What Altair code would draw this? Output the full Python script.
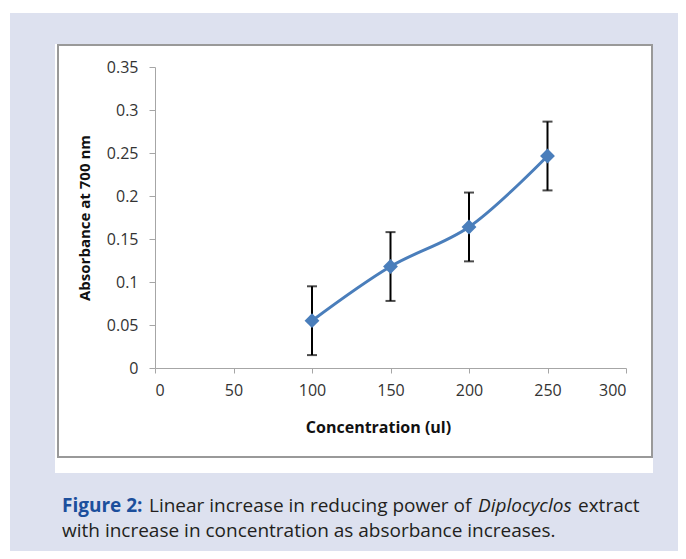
import altair as alt
import pandas as pd

# ---- data ----
concentration = [100, 150, 200, 250]
absorbance = [0.055, 0.118, 0.164, 0.2465]
error = [0.04, 0.04, 0.04, 0.04]

x_ticks = [0, 50, 100, 150, 200, 250, 300]
y_ticks = [0, 0.05, 0.1, 0.15, 0.2, 0.25, 0.3, 0.35]

caption_parts = ["Figure 2:", "Linear increase in reducing power of", "Diplocyclos", "extract"]
caption_line2 = "with increase in concentration as absorbance increases."

df = pd.DataFrame({"conc": concentration, "abs": absorbance, "err": error})
df["lo"] = df["abs"] - df["err"]
df["hi"] = df["abs"] + df["err"]

one = pd.DataFrame({"k": [0]})

W, H = 471, 301
LAV = "#dde1ef"
FONT = "Open Sans"

xscale = alt.Scale(domain=[0, 300], nice=False, zero=False)
yscale = alt.Scale(domain=[0, 0.35], nice=False)

xaxis = alt.Axis(values=x_ticks, grid=False, domainColor="#a6a6a6", tickColor="#a6a6a6",
                 tickSize=5, labelPadding=9, labelFont=FONT, labelFontSize=16,
                 labelColor="#333333", title="Concentration (ul)", titleFont=FONT,
                 titleFontSize=16, titleFontWeight="bold", titleColor="#111111",
                 titleX=223, titleY=64, titleBaseline="alphabetic", zindex=1)
yaxis = alt.Axis(values=y_ticks, format="~g", grid=False, domainColor="#a6a6a6",
                 tickColor="#a6a6a6",
                 tickSize=6, labelPadding=11, labelFont=FONT, labelFontSize=16,
                 labelColor="#333333", title="Absorbance at 700 nm", titleFont=FONT,
                 titleFontSize=15, titleFontWeight="bold", titleColor="#111111",
                 titleX=-71, titleY=H / 2, titleAngle=-90, titleAlign="center",
                 titleBaseline="middle", zindex=1)

# decorative backgrounds
lav = alt.Chart(one).mark_rect(fill=LAV).encode(
    x=alt.value(-145), x2=alt.value(560), y=alt.value(-54), y2=alt.value(520))
white = alt.Chart(one).mark_rect(fill="white").encode(
    x=alt.value(-100), x2=alt.value(498), y=alt.value(-23), y2=alt.value(406))
border = alt.Chart(one).mark_rect(fill=None, stroke="#999999", strokeWidth=2).encode(
    x=alt.value(-97), x2=alt.value(497), y=alt.value(-22), y2=alt.value(390))

base = alt.Chart(df)
rules = base.mark_rule(color="black", strokeWidth=2).encode(
    x=alt.X("conc:Q", scale=xscale, axis=xaxis),
    y=alt.Y("lo:Q", scale=yscale, axis=yaxis),
    y2="hi:Q")
cap_lo = base.mark_tick(color="black", thickness=2, size=10, orient="horizontal").encode(
    x=alt.X("conc:Q", scale=xscale), y=alt.Y("lo:Q", scale=yscale))
cap_hi = base.mark_tick(color="black", thickness=2, size=10, orient="horizontal").encode(
    x=alt.X("conc:Q", scale=xscale), y=alt.Y("hi:Q", scale=yscale))
line = base.mark_line(color="#4a7ebb", strokeWidth=3, interpolate="catmull-rom").encode(
    x=alt.X("conc:Q", scale=xscale), y=alt.Y("abs:Q", scale=yscale))
pts = base.mark_point(shape="diamond", filled=True, color="#4a7ebb", size=220, opacity=1).encode(
    x=alt.X("conc:Q", scale=xscale), y=alt.Y("abs:Q", scale=yscale))

def txt(s, x, y, color="#231f20", **kw):
    return alt.Chart(one).mark_text(align="left", baseline="alphabetic", font="Open Sans",
                                    fontSize=19, color=color, **kw).encode(
        x=alt.value(x), y=alt.value(y), text=alt.value(s))

cap = (txt(caption_parts[0], -93, 445, fontWeight="bold", color="#1c4f9c")
       + txt(caption_parts[1], -6, 445)
       + txt(caption_parts[2], 323, 445, fontStyle="italic")
       + txt(caption_parts[3], 423, 445)
       + txt(caption_line2, -93, 470))

chart = alt.layer(lav, white, border, rules, cap_lo, cap_hi, line, pts, cap).properties(
    width=W, height=H,
    autosize=alt.AutoSizeParams(type="none"),
    padding={"left": 147, "top": 59, "right": 52, "bottom": 183},
    background="white",
).configure_view(stroke=None)

chart.save("out.html", embed_options={"renderer": "svg", "actions": False})
